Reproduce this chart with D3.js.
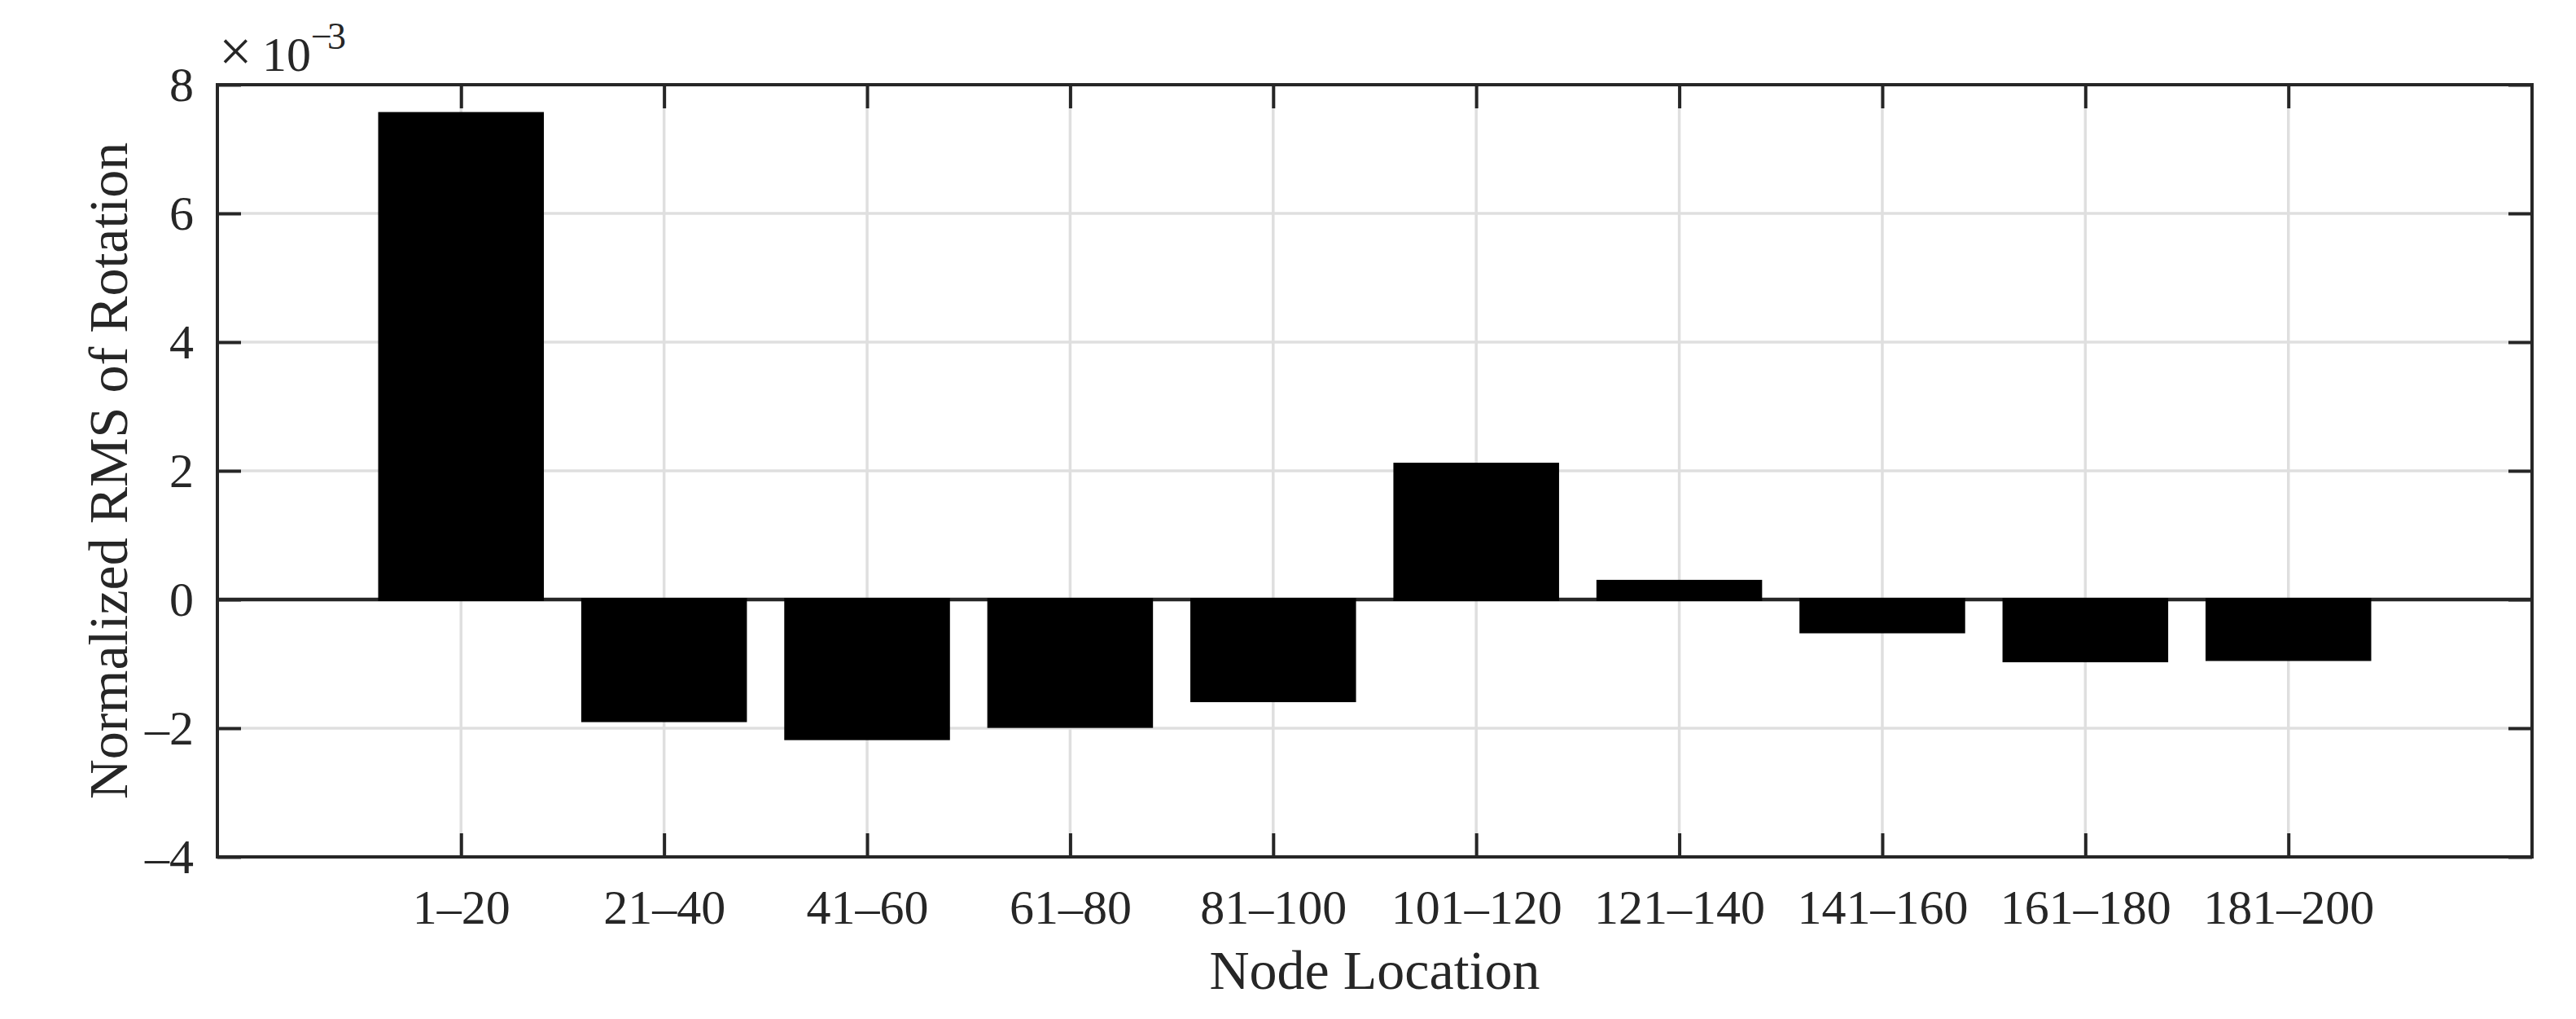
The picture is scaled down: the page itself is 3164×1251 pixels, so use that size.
<!DOCTYPE html>
<html>
<head>
<meta charset="utf-8">
<script src="https://cdn.jsdelivr.net/npm/d3@7"></script>
<style>
  html, body { margin: 0; padding: 0; background: #fff; }
  text { font-family: "Liberation Serif", "Times New Roman", serif; fill: #262626; }
</style>
</head>
<body>
<svg id="chart"></svg>
<script>
// node groups and normalized RMS values (x 1e-3)
const categories = ['1\u201320', '21\u201340', '41\u201360', '61\u201380', '81\u2013100',
  '101\u2013120', '121\u2013140', '141\u2013160', '161\u2013180', '181\u2013200'];
const rmsValues = [7.55, -1.88, -2.16, -1.97, -1.57, 2.10, 0.28, -0.50, -0.95, -0.93];
const yTicks = [-4, -2, 0, 2, 4, 6, 8];

const width = 3164, height = 1251;
const margin = { top: 104, right: 54, bottom: 199, left: 267 };
const innerW = width - margin.left - margin.right;
const innerH = height - margin.top - margin.bottom;
const axisColor = '#262626';
const gridColor = '#dfdfdf';
const tickLen = 29;

const svg = d3.select('#chart')
  .attr('width', width)
  .attr('height', height);

const g = svg.append('g')
  .attr('transform', `translate(${margin.left},${margin.top})`);

const idx = categories.map((c, i) => i);
const x = d3.scaleLinear().domain([-1.2, 10.2]).range([0, innerW]);
const y = d3.scaleLinear().domain([-4, 8]).range([innerH, 0]);
const barW = x(0.8) - x(0);

// grid
g.append('g').selectAll('line')
  .data(idx)
  .enter().append('line')
  .attr('x1', d => x(d)).attr('x2', d => x(d))
  .attr('y1', 0).attr('y2', innerH)
  .attr('stroke', gridColor).attr('stroke-width', 3.5);

g.append('g').selectAll('line')
  .data(yTicks)
  .enter().append('line')
  .attr('x1', 0).attr('x2', innerW)
  .attr('y1', d => y(d)).attr('y2', d => y(d))
  .attr('stroke', gridColor).attr('stroke-width', 3.5);

// baseline
g.append('line')
  .attr('x1', 0).attr('x2', innerW)
  .attr('y1', y(0)).attr('y2', y(0))
  .attr('stroke', axisColor).attr('stroke-width', 4.5);

// bars
g.selectAll('.bar')
  .data(rmsValues)
  .enter().append('rect')
  .attr('class', 'bar')
  .attr('x', (d, i) => x(i) - barW / 2)
  .attr('width', barW)
  .attr('y', d => y(Math.max(0, d)))
  .attr('height', d => Math.abs(y(d) - y(0)))
  .attr('fill', '#000')
  .attr('stroke', '#000')
  .attr('stroke-width', 4);

// axes
const fmtY = d => d < 0 ? '\u2013' + Math.abs(d) : String(d);

const styleAxis = sel => {
  sel.select('.domain').remove();
  sel.selectAll('line').attr('stroke', axisColor).attr('stroke-width', 4);
  sel.selectAll('text').attr('fill', axisColor).style('font-size', '60px')
    .style('font-family', '"Liberation Serif", "Times New Roman", serif');
};

g.append('g')
  .attr('transform', `translate(0,${innerH})`)
  .call(d3.axisBottom(x).tickValues(idx).tickFormat(i => categories[i])
    .tickSize(-tickLen).tickPadding(39))
  .call(styleAxis);

g.append('g')
  .call(d3.axisTop(x).tickValues(idx).tickFormat('').tickSize(-tickLen))
  .call(styleAxis);

g.append('g')
  .call(d3.axisLeft(y).tickValues(yTicks).tickFormat(fmtY)
    .tickSize(-tickLen).tickPadding(29))
  .call(styleAxis);

g.append('g')
  .attr('transform', `translate(${innerW},0)`)
  .call(d3.axisRight(y).tickValues(yTicks).tickFormat('').tickSize(-tickLen))
  .call(styleAxis);

// box
g.append('rect')
  .attr('x', 0).attr('y', 0)
  .attr('width', innerW).attr('height', innerH)
  .attr('fill', 'none')
  .attr('stroke', axisColor).attr('stroke-width', 4);

// exponent label
const expo = svg.append('text')
  .attr('x', margin.left + 2)
  .attr('y', 87)
  .style('font-size', '60px');
expo.append('tspan').style('font-size', '72px').text('\u00d7');
expo.append('tspan').attr('x', margin.left + 55).text('10');
expo.append('tspan').attr('dy', -27).style('font-size', '46px').text('\u2212');
expo.append('tspan').attr('dx', -6).style('font-size', '46px').text('3');

// axis labels
svg.append('text')
  .attr('x', margin.left + innerW / 2)
  .attr('y', 1214)
  .attr('text-anchor', 'middle')
  .style('font-size', '68px')
  .text('Node Location');

svg.append('text')
  .attr('transform', `translate(156,${margin.top + innerH / 2}) rotate(-90)`)
  .attr('text-anchor', 'middle')
  .style('font-size', '68px')
  .text('Normalized RMS of Rotation');
</script>
</body>
</html>
